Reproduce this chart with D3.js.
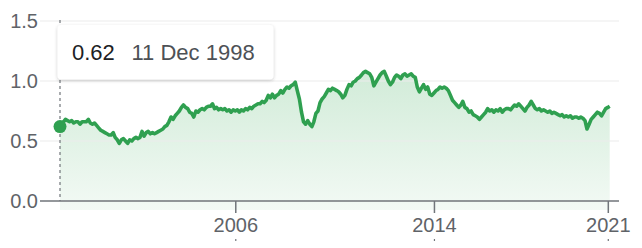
<!DOCTYPE html>
<html>
<head>
  <meta charset="utf-8">
  <title>Price chart</title>
  <script src="https://d3js.org/d3.v7.min.js"></script>
  <style>
    body { margin: 0; background: #fff; }
    text { font-family: Arial, "Liberation Sans", sans-serif; }
  </style>
</head>
<body>
  <script>
  // data: one value per month, first point is the hovered one
  var firstDate = "1998-12-11";
  var firstValue = 0.62;
  var firstMonth = "1999-01-01";
  var monthly = [
    /*1999*/ 0.65,0.66,0.68,0.67,0.66,0.67,0.65,0.66,0.66,0.64,0.66,0.66,
    /*2000*/ 0.66,0.68,0.65,0.64,0.65,0.63,0.61,0.59,0.58,0.57,0.56,0.55,
    /*2001*/ 0.55,0.57,0.53,0.51,0.48,0.51,0.52,0.50,0.48,0.51,0.50,0.52,
    /*2002*/ 0.53,0.52,0.53,0.58,0.54,0.57,0.58,0.56,0.57,0.56,0.57,0.58,
    /*2003*/ 0.59,0.60,0.62,0.63,0.66,0.70,0.68,0.71,0.73,0.75,0.78,0.80,
    /*2004*/ 0.78,0.77,0.74,0.73,0.70,0.75,0.74,0.76,0.77,0.76,0.78,0.79,
    /*2005*/ 0.79,0.81,0.77,0.78,0.76,0.77,0.76,0.77,0.75,0.76,0.74,0.76,
    /*2006*/ 0.75,0.76,0.74,0.76,0.75,0.77,0.76,0.78,0.77,0.79,0.80,0.81,
    /*2007*/ 0.81,0.83,0.82,0.84,0.88,0.86,0.89,0.86,0.88,0.89,0.92,0.90,
    /*2008*/ 0.93,0.95,0.94,0.96,0.97,0.99,0.92,0.85,0.74,0.66,0.64,0.67,
    /*2009*/ 0.64,0.62,0.66,0.73,0.75,0.82,0.85,0.87,0.90,0.93,0.92,0.94,
    /*2010*/ 0.93,0.92,0.91,0.89,0.86,0.88,0.93,0.97,0.96,0.99,1.00,1.02,
    /*2011*/ 1.03,1.05,1.07,1.08,1.07,1.06,1.03,0.96,0.99,1.02,1.05,1.07,
    /*2012*/ 1.08,1.04,1.00,0.97,0.99,1.03,1.05,1.04,1.02,1.05,1.06,1.04,
    /*2013*/ 1.05,1.06,1.04,1.03,0.95,0.91,0.94,0.97,0.93,0.95,0.89,0.88,
    /*2014*/ 0.90,0.92,0.93,0.95,0.94,0.95,0.94,0.92,0.88,0.84,0.82,0.80,
    /*2015*/ 0.78,0.80,0.83,0.78,0.77,0.74,0.75,0.72,0.71,0.70,0.68,0.70,
    /*2016*/ 0.72,0.74,0.77,0.75,0.76,0.74,0.76,0.75,0.77,0.74,0.76,0.77,
    /*2017*/ 0.77,0.76,0.78,0.80,0.79,0.81,0.79,0.77,0.75,0.78,0.80,0.83,
    /*2018*/ 0.80,0.77,0.76,0.77,0.75,0.76,0.75,0.74,0.75,0.73,0.74,0.73,
    /*2019*/ 0.72,0.71,0.72,0.70,0.71,0.70,0.71,0.69,0.70,0.70,0.69,0.70,
    /*2020*/ 0.69,0.67,0.60,0.64,0.68,0.70,0.72,0.74,0.73,0.71,0.74,0.77,
    /*2021*/ 0.78
  ];
  var lastDate = "2021-01-29";
  var lastValue = 0.79;

  var yTicks = [0, 0.5, 1.0, 1.5];
  var xTicks = ["2006-01-01", "2014-01-01", "2021-01-01"];
  var tipValue = "0.62";
  var tipDate = "11 Dec 1998";

  var width = 642, height = 248;
  var parse = d3.timeParse("%Y-%m-%d");

  var data = [{ date: parse(firstDate), value: firstValue }];
  monthly.forEach(function(v, i) {
    data.push({ date: d3.timeMonth.offset(parse(firstMonth), i), value: v });
  });
  data.push({ date: parse(lastDate), value: lastValue });

  var x = d3.scaleTime().domain([parse(firstDate), parse(lastDate)]).range([60, 609.7]);
  var y = d3.scaleLinear().domain([0, 1.5]).range([201, 21]);

  var svg = d3.select("body").append("svg").attr("width", width).attr("height", height);
  var defs = svg.append("defs");

  var grad = defs.append("linearGradient").attr("id", "fillGrad")
    .attr("gradientUnits", "userSpaceOnUse")
    .attr("x1", 0).attr("y1", 60).attr("x2", 0).attr("y2", 210);
  grad.append("stop").attr("offset", 0).attr("stop-color", "#34a853").attr("stop-opacity", 0.24);
  grad.append("stop").attr("offset", 1).attr("stop-color", "#34a853").attr("stop-opacity", 0.06);

  var shadow = defs.append("filter").attr("id", "shadow")
    .attr("x", "-10%").attr("y", "-30%").attr("width", "120%").attr("height", "170%");
  shadow.append("feDropShadow").attr("dx", 0).attr("dy", 1).attr("stdDeviation", 1.6)
    .attr("flood-color", "#3c4043").attr("flood-opacity", 0.3);

  // area
  svg.append("path").datum(data)
    .attr("fill", "url(#fillGrad)")
    .attr("d", d3.area().x(function(d) { return x(d.date); }).y0(210).y1(function(d) { return y(d.value); }));

  // gridlines
  svg.selectAll(".grid").data(yTicks.filter(function(t) { return t > 0; })).enter()
    .append("line")
    .attr("x1", 40).attr("x2", 619)
    .attr("y1", function(d) { return y(d); }).attr("y2", function(d) { return y(d); })
    .attr("stroke", "#ececec").attr("stroke-width", 1.2);

  // y labels
  svg.selectAll(".ylab").data(yTicks).enter()
    .append("text")
    .attr("x", 38).attr("y", function(d) { return y(d); })
    .attr("dy", "0.36em")
    .attr("text-anchor", "end")
    .attr("font-size", 20)
    .attr("fill", "#5f6368")
    .text(function(d) { return d3.format(".1f")(d); });

  // x axis
  var xAxis = svg.append("g").attr("transform", "translate(0,201)")
    .call(d3.axisBottom(x).tickValues(xTicks.map(parse)).tickFormat(d3.timeFormat("%Y")).tickSize(12).tickPadding(5));
  xAxis.select(".domain").remove();
  xAxis.selectAll(".tick line").attr("stroke", "#70757a").attr("stroke-width", 1.5);
  xAxis.selectAll(".tick text").attr("font-size", 20).attr("fill", "#5f6368")
    .attr("font-family", "Arial, 'Liberation Sans', sans-serif");
  xAxis.selectAll(".tick").append("line")
    .attr("y1", 38).attr("y2", 40).attr("stroke", "#70757a").attr("stroke-width", 1.2);

  svg.append("line").attr("x1", 40).attr("x2", 619).attr("y1", 201).attr("y2", 201)
    .attr("stroke", "#70757a").attr("stroke-width", 1.5);

  // hover line
  svg.append("line")
    .attr("x1", x(data[0].date)).attr("x2", x(data[0].date))
    .attr("y1", 20).attr("y2", 201)
    .attr("stroke", "#70757a").attr("stroke-width", 1.2).attr("stroke-dasharray", "3,3");

  // price line
  svg.append("path").datum(data)
    .attr("fill", "none")
    .attr("stroke", "#2fa050")
    .attr("stroke-width", 3.6)
    .attr("stroke-linejoin", "round")
    .attr("d", d3.line().x(function(d) { return x(d.date); }).y(function(d) { return y(d.value); }));

  svg.append("circle")
    .attr("cx", x(data[0].date)).attr("cy", y(data[0].value))
    .attr("r", 6.5).attr("fill", "#2fa050");

  // tooltip
  var tip = svg.append("g");
  tip.append("rect").attr("x", 57.5).attr("y", 25).attr("width", 216).attr("height", 54.5)
    .attr("rx", 4).attr("fill", "#fff").attr("filter", "url(#shadow)");
  tip.append("text").attr("x", 72).attr("y", 59.5).attr("font-size", 22).attr("fill", "#202124").text(tipValue);
  tip.append("text").attr("x", 131.5).attr("y", 59.5).attr("font-size", 22).attr("fill", "#4d5156").text(tipDate);
  </script>
</body>
</html>
